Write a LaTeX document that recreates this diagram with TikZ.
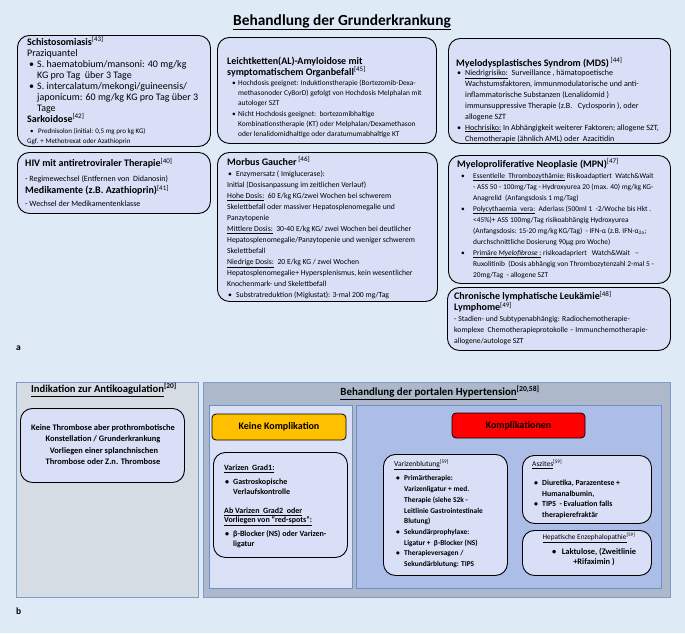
\documentclass[tikz,border=0pt]{standalone}
\usepackage{fontspec}
\setmainfont{Carlito}
\setlength\parindent{0pt}
\newcommand\refn[1]{\smash{\textsuperscript{[#1]}}}
\newcommand\bitem[3]{\par\hangindent=#2\hangafter=1\noindent\hspace*{#1}\makebox[\dimexpr#2-#1\relax][l]{\textbullet}#3}
\newcommand\myul[1]{\underline{#1}}
\newcommand\tfs[2]{\fontsize{#1}{#2}\selectfont\spaceskip=0pt\xspaceskip=0pt }
\definecolor{bg}{HTML}{DEEAF6}
\definecolor{boxfill}{HTML}{D9DFF6}
\definecolor{graypanel}{HTML}{D6DCE4}
\definecolor{panelborder}{HTML}{7F9BC9}
\definecolor{bigpanel}{HTML}{ADB9CA}
\definecolor{innerleft}{HTML}{DAE0F6}
\definecolor{innerright}{HTML}{ACBEE7}
\definecolor{innerborder}{HTML}{6F8FCB}
\definecolor{orangebox}{HTML}{FFC000}
\definecolor{redbox}{HTML}{FF0000}
\begin{document}
\begin{tikzpicture}[x=1pt,y=-1pt,
  rbox/.style={draw=black, line width=0.9pt, fill=boxfill, rounded corners=12pt, inner sep=0pt, anchor=north west},
  panel/.style={draw=panelborder, line width=0.8pt, inner sep=0pt, anchor=north west},
  txt/.style={anchor=north west, inner sep=0pt, align=left},
  lbl/.style={inner sep=0pt, font=\fontsize{9.5}{11}\selectfont\bfseries}]
\useasboundingbox (0,0) rectangle (685,633);
\fill[bg] (0,0) rectangle (685,633);

% ---------- panel a ----------
\node[inner sep=0pt, font=\fontsize{15.4}{17}\selectfont\bfseries] (title) at (342,22) {\myul{Behandlung der Grunderkrankung}};

\node[rbox, minimum width=193pt, minimum height=111pt] (schisto) at (17,35) {};
\node[txt, text width=190pt] (schisto-t) at (27,38.2) {\tfs{10}{11}
\textbf{Schistosomiasis}\refn{43}\par
Praziquantel
\bitem{2pt}{10pt}{S. haematobium/mansoni: 40 mg/kg\newline KG pro Tag\ \ über 3 Tage}
\bitem{2pt}{10pt}{S. intercalatum/mekongi/guineensis/\newline japonicum: 60 mg/kg KG pro Tag über 3\newline Tage}\par
\textbf{Sarkoidose}\refn{42}\par
\fontsize{7}{11}\selectfont
\bitem{3pt}{11pt}{Prednisolon (initial: 0,5 mg pro kg KG)}\par
{\fontsize{7}{10}\selectfont Ggf. + Methotrexat oder Azathioprin\par}};

\node[rbox, minimum width=193pt, minimum height=61pt] (hiv) at (17,152) {};
\node[txt, text width=190pt] (hiv-t) at (25,159.6) {\tfs{10}{11}
\textbf{HIV mit antiretroviraler Therapie}\refn{40}\par
{\fontsize{8}{14.5}\selectfont - Regimewechsel (Entfernen von\ \ Didanosin)\par}
{\fontsize{10}{12.5}\selectfont\textbf{Medikamente (z.B. Azathioprin)}\refn{41}\par}
{\fontsize{8}{12.5}\selectfont - Wechsel der Medikamentenklasse\par}};

\node[rbox, minimum width=219pt, minimum height=106pt] (amyl) at (217,37) {};
\node[txt, text width=215pt] (amyl-t) at (227,56.4) {\tfs{10}{11}
\textbf{Leichtketten(AL)-Amyloidose mit\newline symptomatischem Organbefall}\refn{45}\par
\fontsize{7.4}{10.3}\selectfont
\bitem{5pt}{11pt}{Hochdosis geeignet: Induktionstherapie (Bortezomib-Dexa-\newline methasonoder CyBorD) gefolgt von Hochdosis Melphalan mit\newline autologer SZT}
\bitem{5pt}{11pt}{Nicht Hochdosis geeignet:\ \ bortezomibhaltige\newline Kombinationstherapie (KT) oder Melphalan/Dexamethason\newline oder lenalidomidhaltige oder daratumumabhaltige KT}\par};

\node[rbox, minimum width=220pt, minimum height=149pt] (gaucher) at (217,152) {};
\node[txt, text width=215pt] (gaucher-t) at (227,158.4) {\tfs{10}{11}
\textbf{Morbus Gaucher}\,\refn{46}\par
\fontsize{7.7}{11}\selectfont
\bitem{1pt}{9pt}{Enzymersatz ( Imiglucerase):}\par
Initial (Dosisanpassung im zeitlichen Verlauf)\newline
\myul{Hohe Dosis:}\ \ 60 E/kg KG/zwei Wochen bei schwerem\newline
Skelettbefall oder massiver Hepatosplenomegalie und\newline
Panzytopenie\newline
\myul{Mittlere Dosis:}\ \ 30-40 E/kg KG/ zwei Wochen bei deutlicher\newline
Hepatosplenomegalie/Panzytopenie und weniger schwerem\newline
Skelettbefall\newline
\myul{Niedrige Dosis:}\ \ 20 E/kg KG / zwei Wochen\newline
Hepatosplenomegalie+ Hypersplenismus, kein wesentlicher\newline
Knochenmark- und Skelettbefall
\bitem{1pt}{9pt}{Substratreduktion (Miglustat): 3-mal 200 mg/Tag}\par};

\node[rbox, minimum width=222pt, minimum height=105pt] (mds) at (448,38) {};
\node[txt, text width=215pt] (mds-t) at (456,58.4) {\tfs{10}{11}
\textbf{Myelodysplastisches Syndrom (MDS)}\,\refn{44}\par\vspace{-2pt}
\fontsize{8}{11}\selectfont
\bitem{1pt}{9pt}{\myul{Niedrigrisiko:}\ \ Surveillance , hämatopoetische\newline Wachstumsfaktoren, immunmodulatorische und anti-\newline inflammatorische Substanzen (Lenalidomid )\newline immunsuppressive Therapie (z.B.\ \ \ Cyclosporin ), oder\newline allogene SZT}
\bitem{1pt}{9pt}{\myul{Hochrisiko:}\ In Abhängigkeit weiterer Faktoren; allogene SZT,\newline Chemotherapie (ähnlich AML) oder\ \ Azacitidin}\par};

\node[rbox, minimum width=222pt, minimum height=128pt] (mpn) at (448,155) {};
\node[txt, text width=215pt] (mpn-t) at (457,159.4) {\tfs{10}{11}
\textbf{Myeloproliferative Neoplasie (MPN)}\refn{47}\par
\fontsize{7.4}{11}\selectfont
\bitem{4pt}{16pt}{\myul{Essentielle\ \ Thrombozythämie:} Risikoadaptiert\ \ Watch\&Wait\newline - ASS 50 - 100mg/Tag - Hydroxyurea 20 (max. 40) mg/kg KG-\newline Anagrelid\ \ (Anfangsdosis 1 mg/Tag)}
\bitem{4pt}{16pt}{\myul{Polycythaemia\ \ vera:}\ \ Aderlass (500ml 1\ \ -2/Woche bis Hkt .\newline <45\%)+ ASS 100mg/Tag risikoabhängig Hydroxyurea\newline (Anfangsdosis: 15-20 mg/kg KG/Tag)\ \ - IFN-α (z.B. IFN-α\textsubscript{2a};\newline durchschnittliche Dosierung 90µg pro Woche)}
\bitem{4pt}{16pt}{\myul{Primäre \textit{Myelofibrose} :}\ risikoadapriert\ \ \ Watch\&Wait\ \ \ –\newline Ruxolitinib\ \ (Dosis abhängig von Thrombozytenzahl 2-mal 5 -\newline 20mg/Tag\ \ - allogene SZT}\par};

\node[rbox, minimum width=223pt, minimum height=63pt] (cll) at (447,287) {};
\node[txt, text width=215pt] (cll-t) at (454,292.4) {\tfs{10}{11}
\textbf{Chronische lymphatische Leukämie}\refn{48}\newline\textbf{Lymphome}\refn{49}\par
\fontsize{7.7}{11}\selectfont
- Stadien- und Subtypenabhängig: Radiochemotherapie-\newline komplexe\ \ Chemotherapieprotokolle – Immunchemotherapie-\newline allogene/autologe SZT\par};

\node[lbl, anchor=west] (la) at (16,348) {a};

% ---------- panel b ----------
\node[panel, fill=graypanel, minimum width=182pt, minimum height=215pt] (antik) at (16,382) {};
\node[inner sep=0pt, font=\fontsize{10.6}{12}\selectfont\bfseries] (antik-title) at (104,391) {\myul{Indikation zur Antikoagulation}\refn{20}};
\node[rbox, minimum width=164pt, minimum height=74pt] (antik-box) at (20,408) {};
\node[inner sep=0pt, align=center, font=\fontsize{8.4}{11.3}\selectfont\bfseries] (antik-t) at (103,444.5) {Keine Thrombose aber prothrombotische\\ Konstellation / Grunderkrankung\\ \ Vorliegen einer splanchnischen\\ Thrombose oder Z.n. Thrombose};

\node[panel, fill=bigpanel, minimum width=467pt, minimum height=215pt] (portal) at (203,382) {};
\node[inner sep=0pt, font=\fontsize{10.9}{13}\selectfont\bfseries] (portal-title) at (440,394) {\myul{Behandlung der portalen Hypertension}\refn{20,58}};
\node[panel, draw=innerborder, fill=innerleft, minimum width=143pt, minimum height=183pt] (keine-panel) at (209,405) {};
\node[panel, draw=innerborder, fill=innerright, minimum width=305pt, minimum height=183pt] (kompl-panel) at (356,405) {};

\node[draw=black, line width=0.8pt, fill=orangebox, rounded corners=4pt, minimum width=134pt, minimum height=26pt, inner sep=0pt, font=\fontsize{10}{12}\selectfont\bfseries] (keine) at (279,427) {Keine Komplikation};
\node[draw=black, line width=0.8pt, fill=redbox, rounded corners=4pt, minimum width=133pt, minimum height=25pt, inner sep=0pt, font=\fontsize{10}{12}\selectfont\bfseries] (kompl) at (518.5,425.5) {Komplikationen};

\node[rbox, minimum width=134pt, minimum height=105pt] (varizen) at (213,452) {};
\node[txt, text width=130pt] (varizen-t) at (224,465) {\tfs{8}{9.5}\bfseries
\myul{Varizen\ \ Grad1:}\par\vspace{4.5pt}
\bitem{1pt}{9pt}{Gastroskopische\newline Verlaufskontrolle}\par\vspace{9.5pt}
\myul{Ab Varizen\ \ Grad2\ \ oder}\newline\myul{Vorliegen von “red-spots”:}\par\vspace{4.5pt}
\bitem{1pt}{9pt}{β-Blocker (NS) oder Varizen-\newline ligatur}\par};

\node[rbox, minimum width=124pt, minimum height=121pt] (blutung) at (383,454) {};
\node[txt, text width=120pt] (blutung-t) at (394,461.3) {\tfs{7.5}{8}\myul{Varizenblutung}\refn{59}\par
\vspace{3.5pt}\fontsize{7.4}{10.7}\selectfont\bfseries
\bitem{2pt}{10pt}{Primärtherapie:\newline Varizenligatur + med.\newline Therapie (siehe S2k -\newline Leitlinie Gastrointestinale\newline Blutung)}
\bitem{2pt}{10pt}{Sekundärprophylaxe:\newline Ligatur +\ \ β-Blocker (NS)}
\bitem{2pt}{10pt}{Therapieversagen /\newline Sekundärblutung: TIPS}\par};

\node[rbox, minimum width=129pt, minimum height=68pt] (aszites) at (522,455) {};
\node[txt, text width=125pt] (aszites-t) at (532,461.3) {\tfs{7.5}{8}\myul{Aszites}\refn{59}\par
\vspace{8pt}\fontsize{7.8}{10.7}\selectfont\bfseries
\bitem{2pt}{10pt}{Diuretika, Parazentese +\newline Humanalbumin,}
\bitem{2pt}{10pt}{TIPS\ \ - Evaluation falls\newline therapierefraktär}\par};

\node[rbox, minimum width=129pt, minimum height=45pt] (hepat) at (522,530) {};
\node[inner sep=0pt, font=\fontsize{7.3}{10}\selectfont] (hepat-title) at (589,539) {\myul{Hepatische Enzephalopathie}\refn{59}};
\node[inner sep=0pt, align=center, font=\fontsize{8.4}{10}\selectfont\bfseries] (hepat-t) at (594,557.5) {\textbullet\ \ \ Laktulose, (Zweitlinie\\+Rifaximin )};

\node[lbl, anchor=west] (lb) at (16,611) {b};
\end{tikzpicture}
\end{document}
